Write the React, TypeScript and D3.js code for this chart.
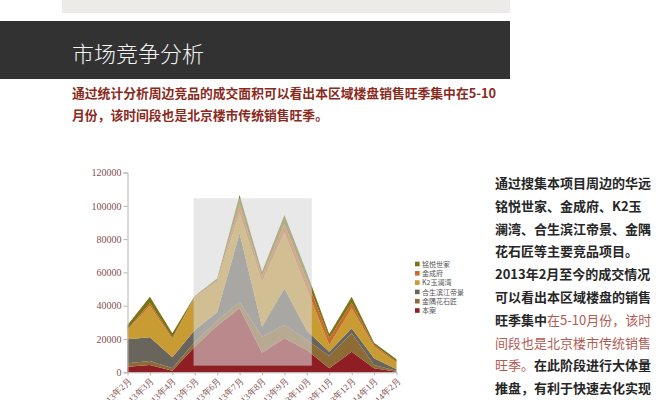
import React, { useEffect, useRef } from "react";
import * as d3 from "d3";

// 月份（横轴）
const MONTHS = [
    "2013年2月", "2013年3月", "2013年4月", "2013年5月", "2013年6月", "2013年7月", "2013年8月",
    "2013年9月", "2013年10月", "2013年11月", "2013年12月", "2014年1月", "2014年2月",
];

// 各项目成交面积（堆积，自下而上）
const BEN_AN = [3400, 4400, 1000, 15400, 28000, 38400, 11800, 20400, 13400, 2400, 12400, 2400, 400];
const JINYU = [2000, 2400, 1400, 2600, 3000, 4000, 9600, 8000, 6000, 7400, 11000, 2000, 600];
const HESHENG = [14400, 14200, 6600, 7400, 5000, 41100, 6000, 22000, 5600, 2600, 3000, 4000, 800];
const K2 = [5600, 18800, 10800, 19600, 18500, 12000, 27000, 33600, 25000, 4000, 12000, 7000, 4000];
const JINCHENG = [400, 1700, 1000, 400, 700, 5000, 3000, 5000, 5400, 4000, 3000, 1000, 600];
const MINGYUE = [2600, 3900, 2600, 400, 1200, 6000, 3000, 5500, 4600, 2600, 4000, 1400, 1400];

const SERIES_NAMES = ["本案", "金隅花石匠", "合生滨江帝景", "K2玉澜湾", "金成府", "铭悦世家"];
const SERIES_VALUES = [BEN_AN, JINYU, HESHENG, K2, JINCHENG, MINGYUE];
const LEGEND_ORDER = ["铭悦世家", "金成府", "K2玉澜湾", "合生滨江帝景", "金隅花石匠", "本案"];

const Y_TICKS = [0, 20000, 40000, 60000, 80000, 100000, 120000];

// 旺季高亮区
const HIGHLIGHT_FROM = "2013年5月";
const HIGHLIGHT_TO = "2013年10月";
const HIGHLIGHT_TOP = 104500;
const HIGHLIGHT_BOTTOM = 4000;

const COLOR: Record<string, string> = {
    "铭悦世家": "#7b7414",
    "金成府": "#c9692c",
    "K2玉澜湾": "#c89b33",
    "合生滨江帝景": "#69645c",
    "金隅花石匠": "#8c6b34",
    "本案": "#8f1d24",
};

const SUBTITLE = [
    "通过统计分析周边竞品的成交面积可以看出本区域楼盘销售旺季集中在5-10",
    "月份，该时间段也是北京楼市传统销售旺季。",
];

// 右侧说明：[文字, 是否红色]
const SIDE_TEXT: [string, boolean][][] = [
    [["通过搜集本项目周边的华远", false]],
    [["铭悦世家、金成府、K2玉", false]],
    [["澜湾、合生滨江帝景、金隅", false]],
    [["花石匠等主要竞品项目。", false]],
    [["2013年2月至今的成交情况", false]],
    [["可以看出本区域楼盘的销售", false]],
    [["旺季集中", false], ["在5-10月份，该时", true]],
    [["间段也是北京楼市传统销售", true]],
    [["旺季。", true], ["在此阶段进行大体量", false]],
    [["推盘，有利于快速去化实现", false]],
];

const CJK = "'Noto Sans CJK SC', 'Noto Sans', sans-serif";
const SERIF = "'Liberation Serif', 'DejaVu Serif', serif";

const App: React.FC = () => {
    const chartRef = useRef<SVGGElement>(null);

    useEffect(() => {
        if (!chartRef.current) return;
        const g = d3.select(chartRef.current);
        g.selectAll("*").remove();

        const x = d3.scalePoint<string>().domain(MONTHS).range([127.5, 396.5]);
        const y = d3.scaleLinear().domain([0, 120000]).range([372.3, 172.5]);

        const rows = MONTHS.map((m, i) => {
            const r: Record<string, number | string> = { month: m };
            SERIES_NAMES.forEach((n, k) => (r[n] = SERIES_VALUES[k][i]));
            return r;
        });
        const stack = d3.stack<Record<string, number | string>>().keys(SERIES_NAMES)
            .value((d, key) => d[key] as number);
        const layers = stack(rows);

        const area = d3.area<d3.SeriesPoint<Record<string, number | string>>>()
            .x((d) => x(d.data.month as string)!)
            .y0((d) => y(d[0]))
            .y1((d) => y(d[1]));

        g.selectAll(".layer")
            .data(layers)
            .enter()
            .append("path")
            .attr("class", "layer")
            .attr("fill", (d) => COLOR[d.key])
            .attr("d", area);

        // 旺季高亮
        g.append("rect")
            .attr("x", x(HIGHLIGHT_FROM)! - 1.2)
            .attr("y", y(HIGHLIGHT_TOP))
            .attr("width", x(HIGHLIGHT_TO)! + 5 - x(HIGHLIGHT_FROM)! + 1.2)
            .attr("height", y(HIGHLIGHT_BOTTOM) - y(HIGHLIGHT_TOP))
            .attr("fill", "#d8d8d8")
            .attr("opacity", 0.58);

        // Y 轴
        const yAxis = g.append("g")
            .attr("transform", `translate(${x.range()[0]},0)`)
            .call(d3.axisLeft(y).tickValues(Y_TICKS).tickSize(4).tickPadding(2).tickFormat((d) => String(d)));
        yAxis.select(".domain").attr("stroke", "#b9b1b1");
        yAxis.selectAll("line").attr("stroke", "#b9b1b1");
        yAxis.selectAll("text")
            .attr("fill", "#83504c")
            .attr("font-size", "10px")
            .attr("font-family", SERIF);

        // X 轴
        const xAxis = g.append("g")
            .attr("transform", `translate(0,${y(0)})`)
            .call(d3.axisBottom(x).tickSize(3).tickSizeOuter(0));
        xAxis.select(".domain").attr("stroke", "#b9b1b1");
        xAxis.selectAll("line").attr("stroke", "#b9b1b1");
        xAxis.selectAll("text")
            .attr("fill", "#83504c")
            .attr("font-size", "9px")
            .attr("font-family", SERIF)
            .attr("text-anchor", "end")
            .attr("dy", "0")
            .attr("y", 0)
            .attr("transform", "translate(4,9) rotate(-45)");

        // 图例
        const legend = g.append("g");
        LEGEND_ORDER.forEach((name, i) => {
            const ly = 264 + i * 9.3;
            legend.append("rect")
                .attr("x", 415).attr("y", ly - 2.3)
                .attr("width", 4.6).attr("height", 4.6)
                .attr("fill", COLOR[name]);
            legend.append("text")
                .attr("x", 422).attr("y", ly + 2.6)
                .attr("fill", "#555")
                .attr("font-size", "7px")
                .attr("font-family", CJK)
                .text(name);
        });
    }, []);

    return (
        <svg width={666} height={400} style={{ position: "absolute", left: 0, top: 0, background: "#fff" }}>
            <rect x={0} y={0} width={666} height={400} fill="#fff" />
            <rect x={62} y={0} width={448} height={13} fill="#ecebe7" />
            <rect x={0} y={21} width={510} height={58} fill="#323232" />
            <text x={72} y={62} fill="#f4f4f4" fontSize={22} fontFamily={CJK} fontWeight={300}>
                市场竞争分析
            </text>

            {SUBTITLE.map((line, i) => (
                <text key={i} x={72} y={98 + i * 22} fill="#8a2a1c" fontSize={12.8} fontWeight={700} fontFamily={CJK}>
                    {line}
                </text>
            ))}

            <g ref={chartRef} />

            {SIDE_TEXT.map((parts, i) => (
                <text key={i} x={495} y={188 + i * 22.8} fontSize={13} fontWeight={700} fontFamily={CJK}>
                    {parts.map(([t, red], k) => (
                        <tspan key={k} fill={red ? "#b35a50" : "#262626"} fontWeight={red ? 400 : 700}>{t}</tspan>
                    ))}
                </text>
            ))}
        </svg>
    );
};

export default App;
